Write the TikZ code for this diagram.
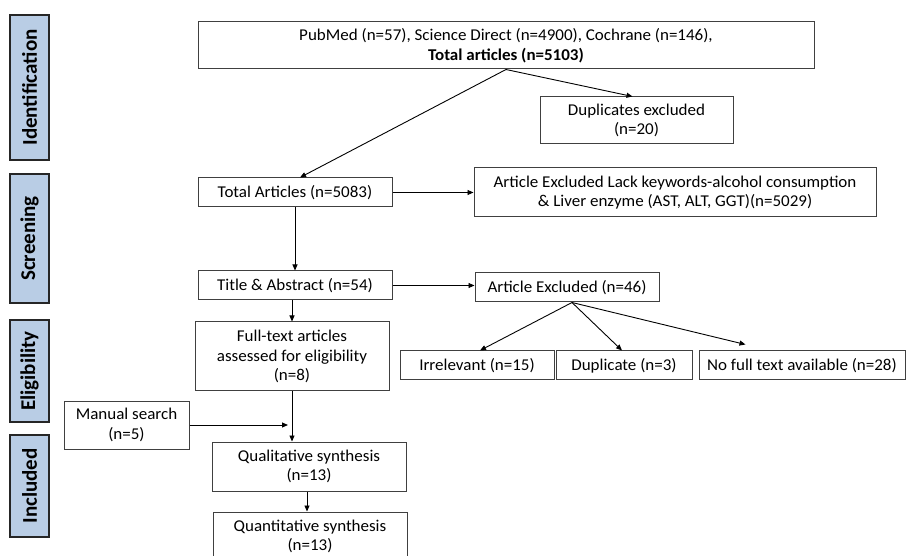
\documentclass[tikz,border=0pt]{standalone}
\usepackage{fontspec}
\setmainfont{Carlito}[FakeStretch=1.03]
\newfontfamily\lblfont{Carlito}
\usetikzlibrary{arrows.meta,calc}
\definecolor{lblue}{HTML}{B9CDE5}
\definecolor{boxline}{HTML}{404040}
\begin{document}
\begin{tikzpicture}[x=1pt,y=-1pt,
  box/.style={draw=boxline, line width=1pt, fill=white, inner sep=0pt, align=center,
    font=\fontsize{16.5}{19.5}\selectfont},
  lbl/.style={draw=black!85, line width=1.6pt, fill=lblue, inner sep=0pt, rotate=90,
    font=\lblfont\bfseries\fontsize{21}{24}\selectfont},
  arr/.style={draw=black, line width=0.9pt, -{Triangle[length=6pt,width=5pt]}}]
\useasboundingbox (0,0) rectangle (906,556);
\fill[white] (0,0) rectangle (906,556);
\clip (0,0) rectangle (906,556);

% stage labels
\node[lbl, minimum width=145pt, minimum height=39pt] (ident) at (29.5,87.5) {Identification};
\node[lbl, minimum width=129pt, minimum height=39pt] (screen) at (29.5,238.5) {Screening};
\node[lbl, minimum width=102pt, minimum height=39pt] (elig) at (29.5,371) {Eligibility};
\node[lbl, minimum width=102pt, minimum height=39pt] (incl) at (29.5,486) {Included};

% boxes
\node[box, minimum width=616pt, minimum height=47pt] (top) at (506,45.5)
  {PubMed (n=57), Science Direct (n=4900), Cochrane (n=146),\\ \textbf{Total articles (n=5103)}};
\node[box, minimum width=193pt, minimum height=47pt] (dup) at (636.5,120.5)
  {Duplicates excluded\\ (n=20)};
\node[box, minimum width=194pt, minimum height=29pt] (total) at (295,192.5)
  {Total Articles (n=5083)};
\node[box, minimum width=402pt, minimum height=49pt] (excla) at (675,192.5)
  {Article Excluded Lack keywords-alcohol consumption\\ \& Liver enzyme (AST, ALT, GGT)(n=5029)};
\node[box, minimum width=194pt, minimum height=29pt] (title) at (295,285.5)
  {Title \& Abstract (n=54)};
\node[box, minimum width=184pt, minimum height=29pt] (exclb) at (567,287.5)
  {Article Excluded (n=46)};
\node[box, minimum width=194pt, minimum height=69pt] (full) at (292,356.5)
  {Full-text articles\\ assessed for eligibility\\ (n=8)};
\node[box, minimum width=154pt, minimum height=29pt] (irr) at (477,365.5)
  {Irrelevant (n=15)};
\node[box, minimum width=136pt, minimum height=29pt] (dupl) at (624,365.5)
  {Duplicate (n=3)};
\node[box, minimum width=206pt, minimum height=29pt] (nofull) at (802,365.5)
  {No full text available (n=28)};
\node[box, minimum width=125pt, minimum height=48pt] (manual) at (126.5,425)
  {Manual search\\ (n=5)};
\node[box, minimum width=194pt, minimum height=49pt] (qual) at (309,466.5)
  {Qualitative synthesis\\ (n=13)};
\node[box, minimum width=194pt, minimum height=49pt] (quant) at (310,536.5)
  {Quantitative synthesis\\ (n=13)};

% connectors
\coordinate (fan) at ([xshift=5pt]exclb.south);
\coordinate (nftip) at ($(nofull.north west)+(47,-6)$);
\coordinate (mstip) at ($(full.south |- manual.east)+(-4,0)$);
\draw[arr] (top.south) -- ([xshift=5pt]total.north);
\draw[arr] (top.south) -- ([xshift=-4pt]dup.north);
\draw[arr] (total.east) -- (excla.west);
\draw[arr] (total.south) -- (title.north);
\draw[arr] (title.east) -- (title.east -| exclb.west);
\draw[arr] (title.south -| full.north) -- (full.north);
\draw[arr] (full.south) -- (full.south |- qual.north);
\draw[arr] (manual.east) -- (mstip);
\draw[arr] ([xshift=-2pt]qual.south) -- ([xshift=-2pt]qual.south |- quant.north);
\draw[arr] (fan) -- ([xshift=3pt]irr.north);
\draw[arr] (fan) -- ([xshift=-2pt]dupl.north);
\draw[arr] (fan) -- (nftip);
\end{tikzpicture}
\end{document}
